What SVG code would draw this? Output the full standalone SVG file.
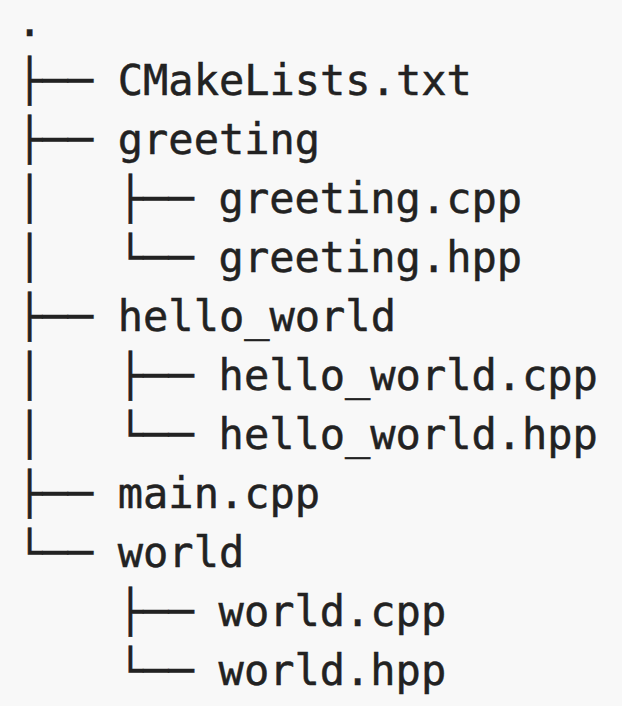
<svg xmlns="http://www.w3.org/2000/svg" width="622" height="706" viewBox="0 0 622 706">
<style>
text{font-family:"DejaVu Sans Mono","Liberation Mono",monospace;font-size:42px;fill:#222222;stroke:#222222;stroke-width:0.5px}
</style>
<rect width="622" height="706" fill="#f8f8f8"/>
<g id="connectors">
<text x="17" y="94.6">├──</text>
<text x="17" y="153.6">├──</text>
<text x="17" y="212.6">│</text><text x="117.8" y="212.6">├──</text>
<text x="17" y="271.6">│</text><text x="117.8" y="271.6">└──</text>
<text x="17" y="330.6">├──</text>
<text x="17" y="389.6">│</text><text x="117.8" y="389.6">├──</text>
<text x="17" y="448.6">│</text><text x="117.8" y="448.6">└──</text>
<text x="17" y="507.6">├──</text>
<text x="17" y="566.6">└──</text>
<text x="117.8" y="625.6">├──</text>
<text x="117.8" y="684.6">└──</text>
</g>
<g id="root"><text x="17" y="35.6">.</text></g>
<g id="cmakelists"><text x="117.8" y="94.6">CMakeLists.txt</text></g>
<g id="greeting"><text x="117.8" y="153.6">greeting</text></g>
<g id="greeting-cpp"><text x="218.6" y="212.6">greeting.cpp</text></g>
<g id="greeting-hpp"><text x="218.6" y="271.6">greeting.hpp</text></g>
<g id="hello-world"><text x="117.8" y="330.6">hello_world</text></g>
<g id="hello-world-cpp"><text x="218.6" y="389.6">hello_world.cpp</text></g>
<g id="hello-world-hpp"><text x="218.6" y="448.6">hello_world.hpp</text></g>
<g id="main-cpp"><text x="117.8" y="507.6">main.cpp</text></g>
<g id="world"><text x="117.8" y="566.6">world</text></g>
<g id="world-cpp"><text x="218.6" y="625.6">world.cpp</text></g>
<g id="world-hpp"><text x="218.6" y="684.6">world.hpp</text></g>
</svg>
